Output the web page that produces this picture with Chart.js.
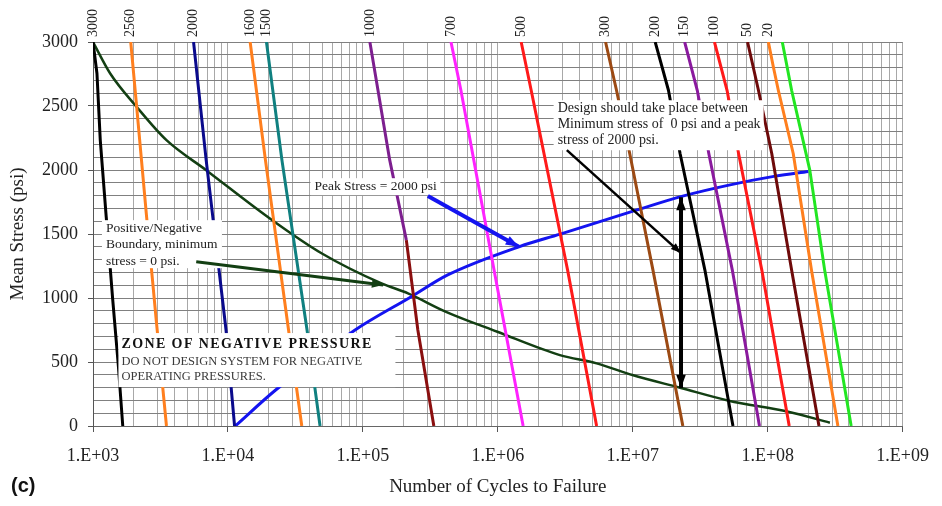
<!DOCTYPE html>
<html>
<head>
<meta charset="utf-8">
<script src="https://cdn.jsdelivr.net/npm/chart.js@4"></script>
<style>
  html, body { margin: 0; padding: 0; background: #fff; }
  #wrap { position: relative; width: 942px; height: 506px; }
  #tag { position: absolute; left: 11px; top: 474px; font: bold 20px "Liberation Sans", Arial, sans-serif; color: #111; }
</style>
</head>
<body>
<div id="wrap">
  <canvas id="chart" width="942" height="506"></canvas>
  <div id="tag">(c)</div>
</div>
<script>
// sample stress levels (psi) the curves were read at
const psiLeft = [3000, 2077, 750, 0];
const psiRight = [3000, 2623, 2129, 1218, 0];

// minimum stress lines: cycles to failure at each sampled mean stress
const psi3000 = [3000, 2754, 2233, 1634, 1010, 463, 0];
const cyc3000 = [1000, 1070, 1132, 1253, 1394, 1543, 1662];
const psi2560 = [3000, 2493, 1634, 802, 0];
const cyc2560 = [1904, 2107, 2496, 2957, 3503];
const cyc2000 = [5561, 6896, 9678, 11197];
const cyc1600 = [14606, 18960, 28130, 35250];
const cyc1500 = [19290, 25120, 38560, 48140];
const psi1000a = [3000, 2077, 1452];
const cyc1000a = [112650, 158100, 209900];
const psi1000b = [1452, 750, 0];
const cyc1000b = [209900, 255400, 335500];
const psi700 = [3000, 2623, 1218, 0];
const cyc700 = [449600, 532500, 937600, 1540000];
const cyc500 = [1489000, 1766000, 3289000, 5395000];
const cyc300 = [6284000, 7574000, 9490000, 14110000, 23500000];
const cyc200 = [14660000, 18380000, 22410000, 34230000, 55280000];
const cyc150 = [24240000, 30050000, 36590000, 54650000, 86870000];
const cyc100 = [40300000, 49950000, 60810000, 90400000, 144300000];
const cyc50 = [70870000, 85350000, 107100000, 150300000, 239800000];
const psi20 = [3000, 2806, 2623, 2129, 1218, 0];
const cyc20 = [101100000, 110000000, 119800000, 154500000, 210900000, 331100000];
const psi0 = [3000, 2623, 1999, 1218, 0];
const cyc0 = [128200000, 150300000, 205000000, 264200000, 415200000];

// peak stress = 2000 psi curve
const psiPeak = [0, 281, 750, 1010, 1180, 1400, 1499, 1686, 1796, 1882, 1952, 1989];
const cycPeak = [11330, 22570, 87530, 228300, 425100, 1432000, 2897000, 10610000, 23420000, 51560000, 113700000, 200000000];

// positive / negative boundary (minimum stress = 0 psi)
const psiBound = [3000, 2754, 2493, 2233, 1999, 1608, 1348, 1114, 1036, 892, 736, 554, 489, 398, 299, 198, 112, 26];
const cycBound = [1000, 1341, 2107, 3503, 6896, 21310, 49710, 137400, 215900, 413100, 992000, 2883000, 5395000, 9930000, 22380000, 51340000, 141800000, 288900000];

const topLabels = ['3000', '2560', '2000', '1600', '1500', '1000', '700', '500', '300', '200', '150', '100', '50', '20'];
const yTicks = [0, 500, 1000, 1500, 2000, 2500, 3000];

const serif = '"Liberation Serif", "Times New Roman", serif';

function pts(xs, ys) {
    return xs.map(function (x, i) { return { x: x, y: ys[i] }; });
}

function line(label, xs, ys, color, width, smooth) {
    return {
        label: label,
        data: pts(xs, ys),
        borderColor: color,
        borderWidth: width || 3,
        pointRadius: 0,
        tension: 0,
        cubicInterpolationMode: smooth ? 'monotone' : 'default',
        borderJoinStyle: 'round',
        fill: false
    };
}

const datasets = [
    line('3000', cyc3000, psi3000, '#000000'),
    line('2560', cyc2560, psi2560, '#ff7f1e'),
    line('2000', cyc2000, psiLeft, '#0a0a8c'),
    line('1600', cyc1600, psiLeft, '#ff7f1e'),
    line('1500', cyc1500, psiLeft, '#108080'),
    line('1000', cyc1000a, psi1000a, '#7d1f8f'),
    line('1000b', cyc1000b, psi1000b, '#8a0f0f'),
    line('700', cyc700, psi700, '#ff22ff'),
    line('500', cyc500, psi700, '#ff1a1a'),
    line('300', cyc300, psiRight, '#9c4a14'),
    line('200', cyc200, psiRight, '#000000'),
    line('150', cyc150, psiRight, '#8a1a9e'),
    line('100', cyc100, psiRight, '#ff1a1a'),
    line('50', cyc50, psiRight, '#6e0a0a'),
    line('20', cyc20, psi20, '#ff7f1e'),
    line('0', cyc0, psi0, '#22e622'),
    line('Peak Stress = 2000 psi', cycPeak, psiPeak, '#1414f0', 3, true),
    line('Boundary', cycBound, psiBound, '#133f13', 2.5, true)
];

// top labels sit over the first point of each stress line
const labelCycles = [cyc3000[0], cyc2560[0], cyc2000[0], cyc1600[0], cyc1500[0], cyc1000a[0], cyc700[0],
    cyc500[0], cyc300[0], cyc200[0], cyc150[0], cyc100[0], cyc50[0], cyc20[0]];

// text boxes, anchored at their top-left corner in data units
const notes = [
    { x: 1165, y: 1608, w: 120, h: 48, font: '13.5px ' + serif, lh: 16.2, first: 8.5,
      lines: ['Positive/Negative', 'Boundary, minimum', 'stress = 0 psi.'] },
    { x: 40840, y: 1936, w: 130, h: 17, font: '13.5px ' + serif, lh: 16, first: 8.5,
      lines: ['Peak Stress = 2000 psi'] },
    { x: 2591000, y: 2545, w: 210, h: 50, font: '14px ' + serif, lh: 16, first: 8.5,
      lines: ['Design should take place between', 'Minimum stress of  0 psi and a peak', 'stress of 2000 psi.'] }
];

const arrows = [
    { x1: 5821, y1: 1283, x2: 141300, y2: 1101, color: '#133f13', width: 3 },
    { x1: 303000, y1: 1796, x2: 1432000, y2: 1400, color: '#1414f0', width: 4 },
    { x1: 3246000, y1: 2155, x2: 22770000, y2: 1351, color: '#000000', width: 2.5 },
    { x1: 22770000, y1: 1788, x2: 22770000, y2: 297, color: '#000000', width: 4, both: true }
];

function isDecade(v) {
    const e = Math.round(Math.log10(v));
    return Math.abs(v - Math.pow(10, e)) < 1e-6 * v;
}

function drawArrow(ctx, x1, y1, x2, y2, color, width, both) {
    const head = 6 + width * 2;
    const ang = Math.atan2(y2 - y1, x2 - x1);
    ctx.save();
    ctx.strokeStyle = color;
    ctx.fillStyle = color;
    ctx.lineWidth = width;
    ctx.beginPath();
    ctx.moveTo(x1, y1);
    ctx.lineTo(x2, y2);
    ctx.stroke();
    const tip = function (x, y, a) {
        ctx.beginPath();
        ctx.moveTo(x, y);
        ctx.lineTo(x - head * Math.cos(a - 0.35), y - head * Math.sin(a - 0.35));
        ctx.lineTo(x - head * Math.cos(a + 0.35), y - head * Math.sin(a + 0.35));
        ctx.closePath();
        ctx.fill();
    };
    tip(x2, y2, ang);
    if (both) tip(x1, y1, ang + Math.PI);
    ctx.restore();
}

const notesPlugin = {
    id: 'notes',
    afterDatasetsDraw: function (chart) {
        const ctx = chart.ctx;
        const xs = chart.scales.x, ys = chart.scales.y;
        const area = chart.chartArea;

        // plain text boxes
        notes.forEach(function (n) {
            const left = xs.getPixelForValue(n.x), top = ys.getPixelForValue(n.y);
            ctx.save();
            ctx.fillStyle = '#ffffff';
            ctx.fillRect(left, top, n.w, n.h);
            ctx.fillStyle = '#222';
            ctx.font = n.font;
            ctx.textBaseline = 'middle';
            ctx.textAlign = 'left';
            n.lines.forEach(function (t, i) {
                ctx.fillText(t, left + 4, top + n.first + i * n.lh);
            });
            ctx.restore();
        });

        // zone of negative pressure
        const zl = xs.getPixelForValue(1543), zt = ys.getPixelForValue(726);
        ctx.save();
        ctx.fillStyle = '#ffffff';
        ctx.fillRect(zl, zt, 277, 54);
        ctx.textBaseline = 'middle';
        ctx.fillStyle = '#111';
        ctx.font = 'bold 14px ' + serif;
        ctx.letterSpacing = '1.4px';
        ctx.fillText('ZONE OF NEGATIVE PRESSURE', zl + 3, zt + 11);
        ctx.letterSpacing = '0px';
        ctx.fillStyle = '#3a3a3a';
        ctx.font = '12.5px ' + serif;
        ctx.fillText('DO NOT DESIGN SYSTEM FOR NEGATIVE', zl + 3, zt + 29);
        ctx.fillText('OPERATING PRESSURES.', zl + 3, zt + 44);
        ctx.restore();

        arrows.forEach(function (a) {
            drawArrow(ctx, xs.getPixelForValue(a.x1), ys.getPixelForValue(a.y1),
                xs.getPixelForValue(a.x2), ys.getPixelForValue(a.y2), a.color, a.width, a.both);
        });

        // rotated stress labels above the plot
        ctx.save();
        ctx.fillStyle = '#222';
        ctx.font = '14px ' + serif;
        ctx.textAlign = 'left';
        ctx.textBaseline = 'middle';
        topLabels.forEach(function (t, i) {
            ctx.save();
            ctx.translate(xs.getPixelForValue(labelCycles[i]), area.top - 5);
            ctx.rotate(-Math.PI / 2);
            ctx.fillText(t, 0, 0);
            ctx.restore();
        });
        ctx.restore();
    }
};

new Chart(document.getElementById('chart'), {
    type: 'line',
    data: { datasets: datasets },
    options: {
        responsive: false,
        animation: false,
        layout: { padding: { top: 42, right: 34, left: 0, bottom: 0 } },
        plugins: { legend: { display: false }, tooltip: { enabled: false } },
        scales: {
            x: {
                type: 'logarithmic',
                min: 1000,
                max: 1e9,
                afterBuildTicks: function (scale) {
                    const t = [];
                    for (let e = 3; e < 9; e++) {
                        for (let m = 1; m < 10; m++) t.push({ value: m * Math.pow(10, e) });
                    }
                    t.push({ value: 1e9 });
                    scale.ticks = t;
                },
                afterFit: function (scale) { scale.height = 80; },
                ticks: {
                    autoSkip: false,
                    maxRotation: 0,
                    minRotation: 0,
                    padding: 13,
                    color: '#222',
                    font: { family: serif, size: 18 },
                    callback: function (v) {
                        if (!isDecade(v)) return '';
                        const e = Math.round(Math.log10(v));
                        return '1.E+' + String(e).padStart(2, '0');
                    }
                },
                grid: {
                    color: '#a8a8a8',
                    tickLength: 6,
                    tickColor: function (c) { return c.tick && isDecade(c.tick.value) ? '#555' : 'rgba(0,0,0,0)'; }
                },
                border: { color: '#666' },
                title: {
                    display: true,
                    text: 'Number of Cycles to Failure',
                    color: '#222',
                    font: { family: serif, size: 19 },
                    padding: { top: 0, bottom: 8 }
                }
            },
            y: {
                min: 0,
                max: 3000,
                afterFit: function (scale) { scale.width = 93; },
                ticks: {
                    stepSize: 100,
                    autoSkip: false,
                    padding: 10,
                    color: '#222',
                    font: { family: serif, size: 18 },
                    callback: function (v) { return yTicks.indexOf(v) >= 0 ? String(v) : ''; }
                },
                grid: {
                    color: '#808080',
                    tickLength: 5,
                    tickColor: function (c) { return c.tick && yTicks.indexOf(c.tick.value) >= 0 ? '#555' : 'rgba(0,0,0,0)'; }
                },
                border: { color: '#555' },
                title: {
                    display: true,
                    text: 'Mean Stress (psi)',
                    color: '#222',
                    font: { family: serif, size: 19 },
                    padding: { top: 7, bottom: 0 }
                }
            }
        }
    },
    plugins: [notesPlugin]
});
</script>
</body>
</html>
